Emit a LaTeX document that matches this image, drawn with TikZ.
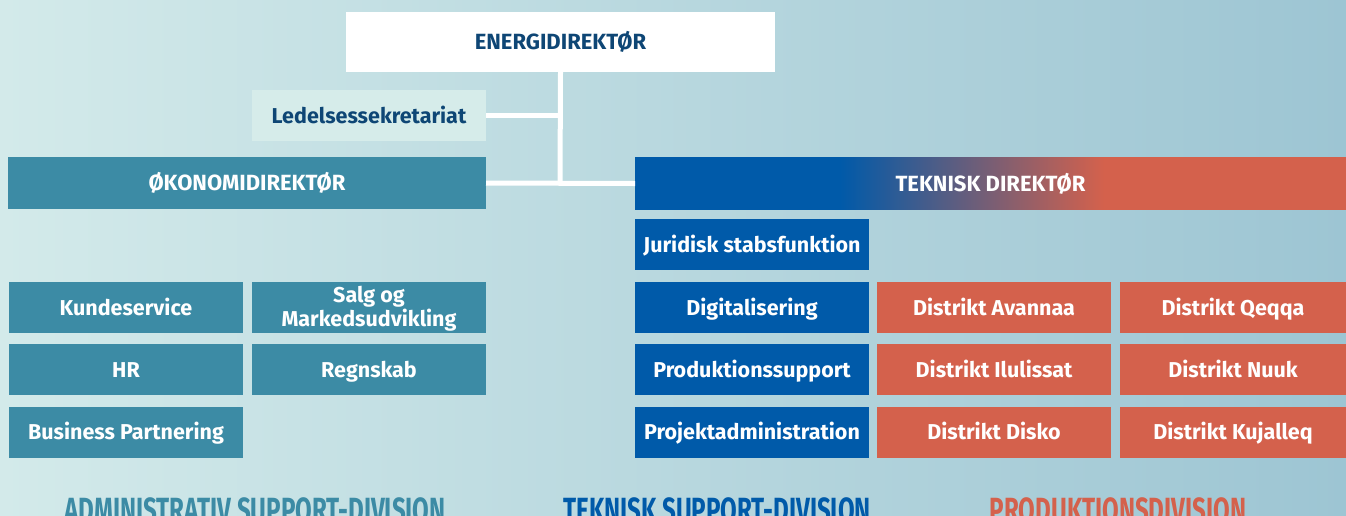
\documentclass[tikz,border=0pt]{standalone}
\usepackage{fontspec}
\setmainfont{Fira Sans}
\newfontfamily\condfont{Fira Sans}[FakeStretch=0.69]
\definecolor{bgleft}{HTML}{D3EAEA}
\definecolor{bgright}{HTML}{9DC5D3}
\definecolor{adminteal}{HTML}{3C8BA5}
\definecolor{tekblue}{HTML}{005AA9}
\definecolor{prodred}{HTML}{D4614C}
\definecolor{ledlight}{HTML}{D6ECEA}
\definecolor{darktext}{HTML}{0E4675}
\begin{document}
\begin{tikzpicture}
  [x=1pt,y=-1pt,
  unit/.style={rectangle,inner sep=0,outer sep=0,align=center,text=white,
                  minimum width=234pt,minimum height=51pt,
                  text height=15pt,text depth=0pt,
                  font=\fontsize{21.5}{22}\selectfont\bfseries},
  admin/.style={unit,fill=adminteal},
  tek/.style={unit,fill=tekblue},
  prod/.style={unit,fill=prodred},
  chief/.style={rectangle,inner sep=0,outer sep=0,align=center,
                  minimum height=52pt,font=\fontsize{22}{22}\selectfont\bfseries},
  division/.style={anchor=base,inner sep=0,
                  font=\condfont\fontsize{35}{35}\selectfont\bfseries},
  link/.style={draw=white,line width=5pt}
                  ]
  \useasboundingbox (0,0) rectangle (1346,515);
  \shade[left color=bgleft,right color=bgright] (0,0) rectangle (1346,515);

  % blue to red band behind the technical director
  \fill[tekblue] (635,157) rectangle (841,210);
  \foreach \i in {0,...,264}{
    \pgfmathsetmacro\pct{100-\i/2.64}
    \fill[tekblue!\pct!prodred] (840+\i,157) rectangle (841.6+\i,210);
  }
  \fill[prodred] (1104,157) rectangle (1346,210);

  \node[chief,fill=white,text=darktext,minimum width=429pt,minimum height=60pt]
    (energi) at (560.5,42) {ENERGIDIREKT\O R};
  \node[unit,fill=ledlight,text=darktext] (ledelse) at (369,115.5) {Ledelsessekretariat};
  \node[chief,fill=adminteal,text=white,minimum width=478pt] (okonomi) at (247,183) {\O KONOMIDIREKT\O R};
  \node[chief,text=white,minimum width=711pt,minimum height=53pt] (tekdir) at (990.5,183.5) {TEKNISK DIREKT\O R};
  \coordinate (joint) at (560,183);

  % administrativ support
  \node[admin] (kunde) at (126,307.5) {Kundeservice};
  \node[admin,text height=37pt] (salg) at (369,307.5) {Salg og\\Markedsudvikling};
  \node[admin] (hr) at (126,369.5) {HR};
  \node[admin] (regnskab) at (369,369.5) {Regnskab};
  \node[admin] (business) at (126,432) {Business Partnering};
  % teknisk support
  \node[tek] (juridisk) at (752,244.5) {Juridisk stabsfunktion};
  \node[tek] (digital) at (752,307.5) {Digitalisering};
  \node[tek] (prodsupport) at (752,369.5) {Produktionssupport};
  \node[tek] (projekt) at (752,432) {Projektadministration};
  % produktion
  \node[prod] (avannaa) at (994,307.5) {Distrikt Avannaa};
  \node[prod,minimum width=226pt] (qeqqa) at (1233,307.5) {Distrikt Qeqqa};
  \node[prod] (ilulissat) at (994,369.5) {Distrikt Ilulissat};
  \node[prod,minimum width=226pt] (nuuk) at (1233,369.5) {Distrikt Nuuk};
  \node[prod] (disko) at (994,432) {Distrikt Disko};
  \node[prod,minimum width=226pt] (kujalleq) at (1233,432) {Distrikt Kujalleq};

  \node[division,text=adminteal] (admindiv) at (255,522) {ADMINISTRATIV SUPPORT-DIVISION};
  \node[division,text=tekblue] (tekdiv) at (717,522) {TEKNISK SUPPORT-DIVISION};
  \node[division,text=prodred] (proddiv) at (1118,522) {PRODUKTIONSDIVISION};

  \draw[link] (energi.south) to (joint);
  \draw[link] (ledelse.east) to (ledelse.east -| joint);
  \draw[link] (okonomi.east) to (tekdir.west);
\end{tikzpicture}
\end{document}
